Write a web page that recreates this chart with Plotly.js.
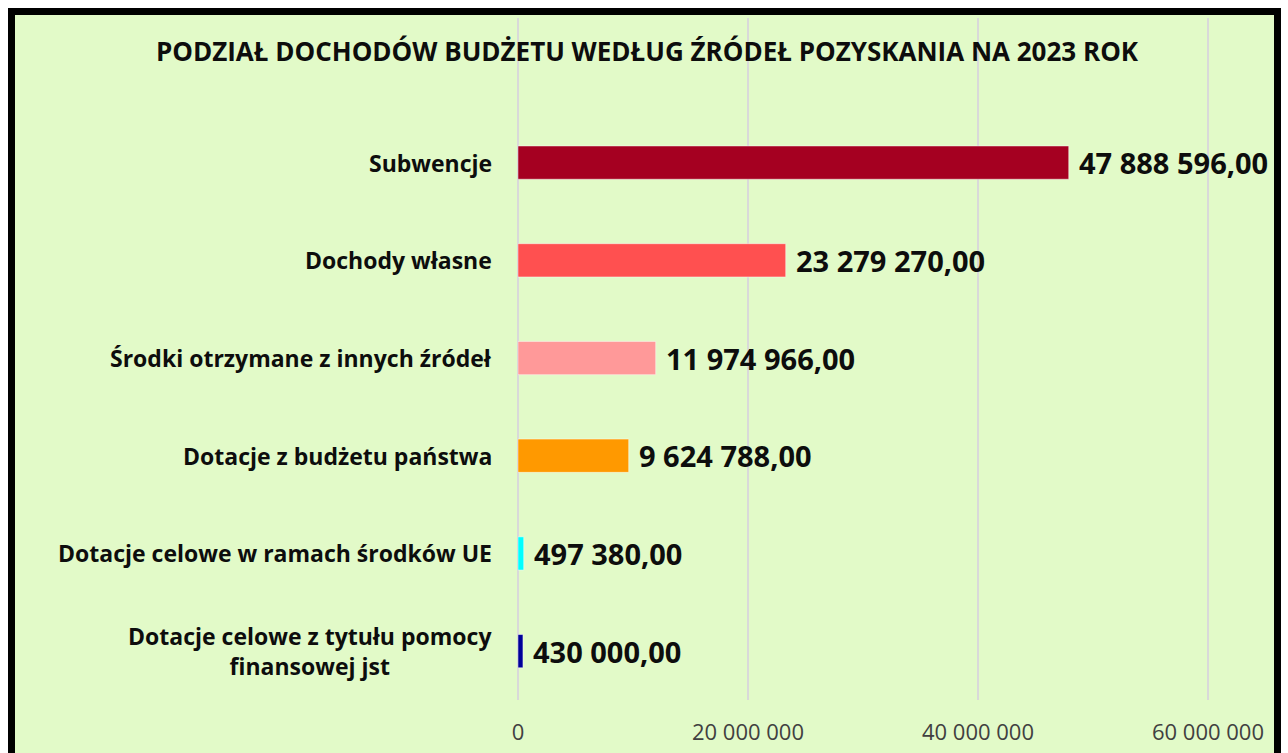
<!DOCTYPE html>
<html><head><meta charset="utf-8">
<script src="https://cdn.plot.ly/plotly-3.0.1.min.js"></script>
<style>
html,body{margin:0;padding:0;background:#fff;overflow:hidden;width:1288px;height:753px;}
#frame{position:absolute;left:8px;top:8px;width:1259px;height:745px;border:7px solid #000;background:#e2fac8;}
#chart{width:1259px;height:738px;}
</style></head>
<body><div id="frame"><div id="chart"></div></div>
<script>
const categories = [
  "Subwencje",
  "Dochody własne",
  "Środki otrzymane z innych źródeł",
  "Dotacje z budżetu państwa",
  "Dotacje celowe w ramach środków UE",
  "Dotacje celowe z tytułu pomocy<br>finansowej jst"
];
const values = [47888596.00, 23279270.00, 11974966.00, 9624788.00, 497380.00, 430000.00];
const barColors = ["#a50021", "#ff5050", "#ff9999", "#ff9900", "#00ffff", "#000099"];
const tickValues = [0, 20000000, 40000000, 60000000];

const FONT = "'Open Sans', Lato, sans-serif";
const ids = categories.map((c, i) => i);

const trace = {
  type: "bar",
  orientation: "h",
  x: values,
  y: ids,
  marker: {color: barColors, line: {color: "rgba(255,255,255,0.45)", width: 1}},
  width: 0.34,
  hoverinfo: "x"
};

const fmt = v => v.toLocaleString("en-US", {minimumFractionDigits: 2, maximumFractionDigits: 2})
  .replace(/,/g, " ").replace(".", ",");

const annotations = [];
categories.forEach((c, i) => {
  annotations.push({
    x: 0, xref: "paper", y: i, yref: "y",
    xanchor: "right", yanchor: "middle", xshift: -24,
    text: "<b>" + c + "</b>", showarrow: false, align: "center",
    font: {family: FONT, size: 23, color: "#0d0d0d"}
  });
  annotations.push({
    x: values[i], xref: "x", y: i, yref: "y",
    xanchor: "left", yanchor: "middle", xshift: 8,
    text: "<b>" + fmt(values[i]) + "</b>", showarrow: false,
    font: {family: FONT, size: 29, color: "#0d0d0d"}
  });
});

const layout = {
  width: 1259, height: 738,
  margin: {l: 503, r: 43, t: 3, b: 53},
  paper_bgcolor: "#e2fac8",
  plot_bgcolor: "#e2fac8",
  separators: ", ",
  showlegend: false,
  title: {
    text: "<b>PODZIAŁ DOCHODÓW BUDŻETU WEDŁUG ŹRÓDEŁ POZYSKANIA NA 2023 ROK</b>",
    x: 0.502, xanchor: "center", xref: "container",
    y: 1 - 37/738, yanchor: "middle", yref: "container",
    font: {family: FONT, size: 26, color: "#0d0d0d"}
  },
  xaxis: {
    range: [0, 62000000],
    tickvals: tickValues,
    tickformat: ",d",
    showgrid: true, gridcolor: "#d9d9d9", gridwidth: 2,
    zeroline: true, zerolinecolor: "#d9d9d9", zerolinewidth: 2,
    showline: false, ticks: "",
    ticklabelstandoff: 17,
    tickfont: {family: FONT, size: 22, color: "#404040"},
    fixedrange: true
  },
  yaxis: {
    type: "linear",
    range: [5.5, -1.48],
    showticklabels: false, showgrid: false, zeroline: false, ticks: "",
    fixedrange: true
  },
  annotations: annotations
};

Plotly.newPlot("chart", [trace], layout, {displayModeBar: false, staticPlot: true});
</script></body></html>
